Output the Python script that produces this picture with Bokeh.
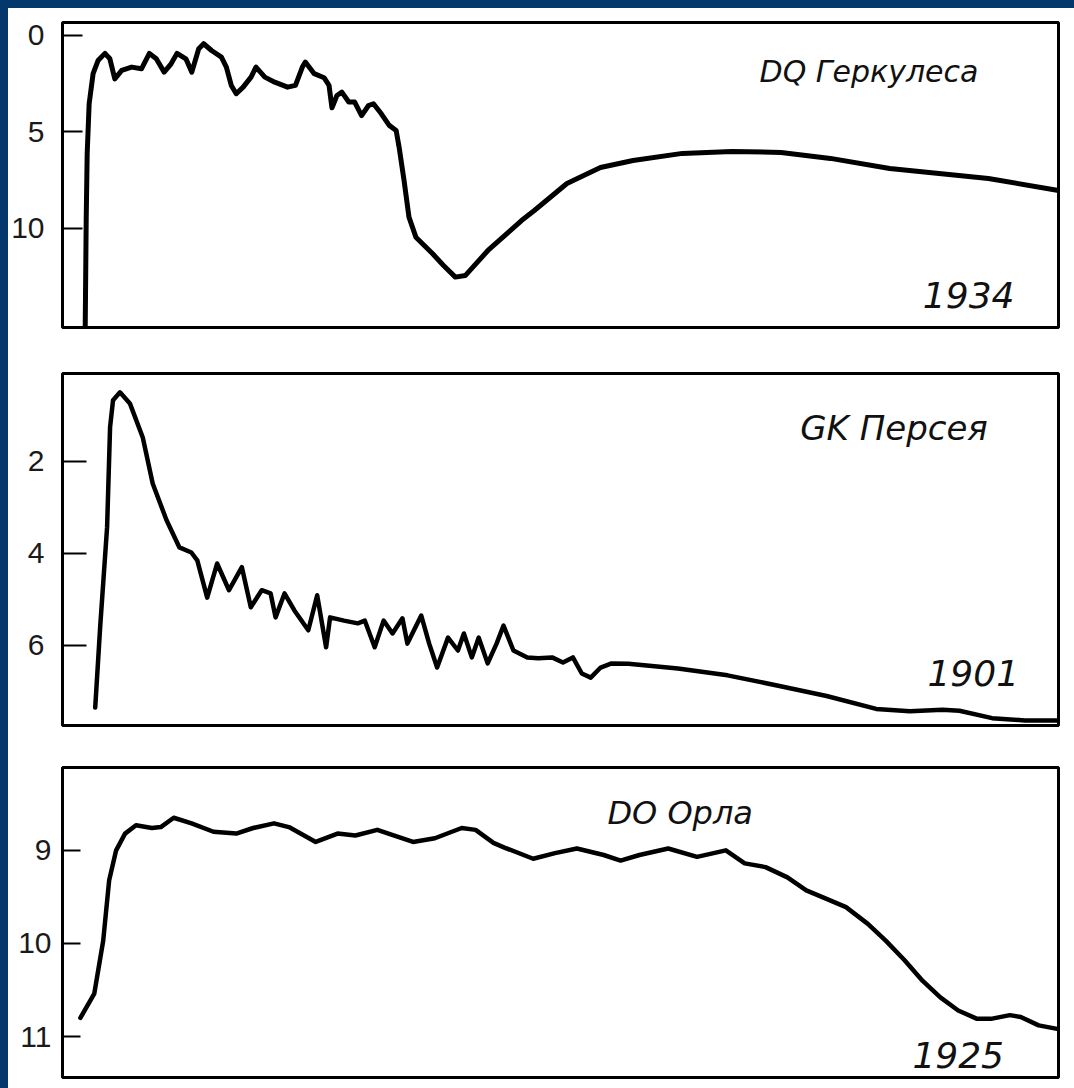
from bokeh.plotting import figure
from bokeh.layouts import column
from bokeh.models import Range1d, FixedTicker, Label, GlobalInlineStyleSheet
from bokeh.embed import file_html
from bokeh.resources import INLINE

# ---- data (time in arbitrary units from panel start, magnitude) ----
dq_x = [23, 24, 25, 27, 31, 36, 43, 48, 53, 60, 70, 80, 88, 95, 103, 110, 116, 125, 131, 138,
        143, 151, 161, 166, 171, 176, 183, 191, 196, 205, 215, 228, 236, 243, 246, 255, 265, 270, 273, 278,
        283, 290, 296, 303, 310, 315, 323, 331, 338, 341, 346, 351, 358, 375, 386, 398, 408, 431, 465, 478,
        511, 545, 578, 628, 678, 728, 778, 838, 938, 1009]
dq_mag = [15.2, 9.6, 6.13, 3.54, 1.98, 1.30, 0.93, 1.21, 2.25, 1.81, 1.64, 1.73, 0.93, 1.21, 1.90, 1.47, 0.93, 1.21, 1.90, 0.69,
          0.43, 0.78, 1.12, 1.64, 2.59, 3.02, 2.68, 2.16, 1.64, 2.16, 2.42, 2.68, 2.59, 1.64, 1.38, 1.98, 2.19, 2.59, 3.75, 3.11,
          2.94, 3.45, 3.45, 4.15, 3.63, 3.54, 4.06, 4.66, 4.92, 5.79, 7.51, 9.41, 10.45, 11.31, 11.92, 12.52, 12.44, 11.14, 9.59, 9.07,
          7.67, 6.84, 6.48, 6.11, 6.01, 6.06, 6.37, 6.89, 7.41, 8.03]

gk_x = [33, 38, 45, 48, 51, 58, 68, 81, 91, 105, 118, 130, 136, 146, 156, 168, 181, 190, 201, 210,
        215, 224, 234, 248, 257, 266, 270, 284, 298, 305, 315, 324, 333, 343, 348, 362, 370, 378, 389, 399,
        405, 413, 420, 429, 438, 445, 455, 469, 480, 494, 505, 515, 524, 533, 543, 554, 571, 621, 671, 721,
        771, 821, 855, 888, 905, 938, 971, 1005]
gk_mag = [7.35, 5.6, 3.43, 1.26, 0.67, 0.5, 0.74, 1.48, 2.48, 3.28, 3.87, 3.98, 4.15, 4.96, 4.22, 4.8, 4.3, 5.17, 4.8, 4.87,
          5.39, 4.87, 5.24, 5.67, 4.91, 6.04, 5.39, 5.46, 5.52, 5.46, 6.04, 5.46, 5.74, 5.41, 5.96, 5.35, 5.96, 6.48, 5.83, 6.11,
          5.74, 6.26, 5.83, 6.39, 5.96, 5.57, 6.11, 6.26, 6.28, 6.26, 6.37, 6.26, 6.61, 6.7, 6.48, 6.39, 6.4, 6.5, 6.65, 6.87,
          7.1, 7.38, 7.43, 7.4, 7.42, 7.58, 7.63, 7.63]

do_x = [18, 32, 41, 47, 54, 63, 74, 90, 99, 112, 130, 152, 175, 192, 213, 228, 255, 277, 295, 317,
        353, 375, 402, 416, 434, 445, 474, 496, 518, 545, 562, 581, 610, 639, 668, 687, 708, 730, 749, 767,
        789, 811, 829, 848, 866, 884, 902, 921, 935, 954, 965, 983, 1003]
do_mag = [10.8, 10.54, 9.97, 9.32, 9.0, 8.82, 8.73, 8.76, 8.75, 8.65, 8.71, 8.8, 8.82, 8.76, 8.71, 8.75, 8.91, 8.82, 8.84, 8.78,
          8.91, 8.87, 8.76, 8.78, 8.92, 8.97, 9.09, 9.03, 8.98, 9.05, 9.11, 9.05, 8.98, 9.07, 9.0, 9.14, 9.18, 9.29, 9.43, 9.51,
          9.61, 9.79, 9.97, 10.18, 10.4, 10.58, 10.72, 10.81, 10.81, 10.77, 10.79, 10.88, 10.92]

star_names = ["DQ Геркулеса", "GK Персея", "DO Орла"]
years = ["1934", "1901", "1925"]
ticks_dq = [0, 5, 10]
ticks_gk = [2, 4, 6]
ticks_do = [9, 10, 11]

TICK_FONT = "Liberation Sans"
TEXT_FONT = "DejaVu Sans"
INK = "#111111"


def panel(h, bt, bb, bl, br, xr, yr, ticks, standoff, tick_len):
    p = figure(width=1066, height=h, x_range=Range1d(*xr), y_range=Range1d(*yr),
               x_axis_location=None, toolbar_location=None, output_backend="svg",
               min_border_top=bt, min_border_bottom=bb, min_border_left=bl, min_border_right=br)
    p.xgrid.visible = False
    p.ygrid.visible = False
    p.outline_line_color = "black"
    p.outline_line_width = 3
    p.background_fill_color = "white"
    p.border_fill_color = "white"
    ax = p.yaxis[0]
    ax.ticker = FixedTicker(ticks=ticks)
    ax.axis_line_color = None
    ax.major_tick_in = tick_len
    ax.major_tick_out = 0
    ax.major_tick_line_width = 2
    ax.major_tick_line_color = "black"
    ax.minor_tick_line_color = None
    ax.major_label_standoff = standoff
    ax.major_label_text_font = TICK_FONT
    ax.major_label_text_font_size = "30px"
    ax.major_label_text_color = "#1a1a1a"
    return p


def label(p, x, y, text, size):
    p.add_layout(Label(x=x, y=y, text=text, text_font=TEXT_FONT, text_font_style="italic",
                       text_font_size=size, text_align="center", text_baseline="alphabetic",
                       text_color=INK))


p1 = panel(342, 14, 23, 54, 3, (0, 1009), (15.13, -0.67), ticks_dq, 18, 20)
p1.line(dq_x, dq_mag, line_color="black", line_width=5, line_join="round", line_cap="round")
label(p1, 817, 1.85, star_names[0], "30px")
label(p1, 918, 13.45, years[0], "36px")

p2 = panel(395, 23, 20, 54, 7, (0, 1005), (7.74, 0.09), ticks_gk, 18, 24)
p2.line(gk_x, gk_mag, line_color="black", line_width=4.5, line_join="round", line_cap="round")
label(p2, 839, 1.27, star_names[1], "34px")
label(p2, 919, 6.60, years[1], "36px")

p3 = panel(343, 22, 11, 47, 16, (0, 1003), (11.44, 8.11), ticks_do, 11, 18)
p3.line(do_x, do_mag, line_color="black", line_width=4.5, line_join="round", line_cap="round")
label(p3, 622, 8.60, star_names[2], "32px")
label(p3, 902, 11.20, years[2], "36px")

css = ("body { border-left: 8px solid #04376b; border-top: 8px solid #04376b; background: #ffffff; }")
layout = column(p1, p2, p3, spacing=0, stylesheets=[GlobalInlineStyleSheet(css=css)])

open("out.html", "w").write(file_html(layout, INLINE))
